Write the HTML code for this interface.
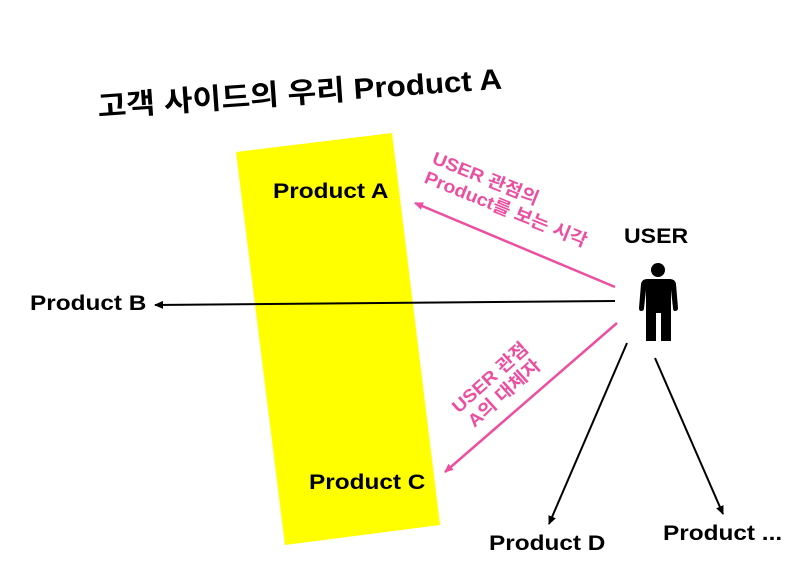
<!DOCTYPE html>
<html><head><meta charset="utf-8"><style>
body{margin:0;width:796px;height:573px;background:#fff;overflow:hidden;position:relative;font-family:"Liberation Sans","Noto Sans CJK KR",sans-serif;font-weight:bold}
.t{position:absolute;white-space:nowrap;color:#000}
.s{transform:scaleX(1.16);transform-origin:left top}
.p{color:#ec4fa0;font-size:18px;line-height:21px}
</style></head><body>
<svg width="796" height="573" style="position:absolute;left:0;top:0">
<defs>
<marker id="ak" markerWidth="10" markerHeight="10" refX="8" refY="5" orient="auto" markerUnits="userSpaceOnUse"><path d="M0,1 L9,5 L0,9 Z" fill="#000"/></marker>
<marker id="ap" markerWidth="10" markerHeight="10" refX="8" refY="5" orient="auto" markerUnits="userSpaceOnUse"><path d="M0,1 L9,5 L0,9 Z" fill="#ec4fa0"/></marker>
</defs>
<polygon points="236,152 392,133 440,525 285,545" fill="#ffff00"/>
<line x1="615" y1="301" x2="155" y2="305" stroke="#000" stroke-width="2" marker-end="url(#ak)"/>
<line x1="615" y1="287" x2="415" y2="203" stroke="#ec4fa0" stroke-width="2.5" marker-end="url(#ap)"/>
<line x1="617" y1="323" x2="445" y2="472" stroke="#ec4fa0" stroke-width="2.5" marker-end="url(#ap)"/>
<line x1="627" y1="343" x2="549" y2="524" stroke="#000" stroke-width="2" marker-end="url(#ak)"/>
<line x1="655" y1="358" x2="723" y2="514" stroke="#000" stroke-width="2" marker-end="url(#ak)"/>
<circle cx="658" cy="270" r="7" fill="#000"/>
<path d="M647,279 H670 Q675,279 676,284 L678,308 Q678,311 675,311 Q673,311 673,308 L671,290 V341 H661 V313 H656 V341 H646 V290 L644,308 Q644,311 641,311 Q639,311 639,308 L641,284 Q642,279 647,279 Z" fill="#000"/>
</svg>
<div class="t" style="left:96px;top:84px;font-size:29px;transform:rotate(-4deg) scaleX(1.08);transform-origin:left top">고객 사이드의 우리 Product A</div>
<div class="t s" style="left:273px;top:180px;font-size:21px">Product A</div>
<div class="t s" style="left:30px;top:292px;font-size:21px">Product B</div>
<div class="t s" style="left:309px;top:471px;font-size:21px">Product C</div>
<div class="t s" style="left:489px;top:532px;font-size:21px">Product D</div>
<div class="t s" style="left:663px;top:522px;font-size:21px">Product ...</div>
<div class="t s" style="left:624px;top:225px;font-size:21px;transform:scaleX(1.1)">USER</div>
<div class="t p" style="left:437px;top:148px;transform:rotate(22deg) scaleX(1.08);transform-origin:left top">USER 관점의<br>Product를 보는 시각</div>
<div class="t p" style="left:448px;top:402px;transform:rotate(-42deg) scaleX(1.08);transform-origin:left top;text-align:center">USER 관점<br>A의 대체자</div>
</body></html>
